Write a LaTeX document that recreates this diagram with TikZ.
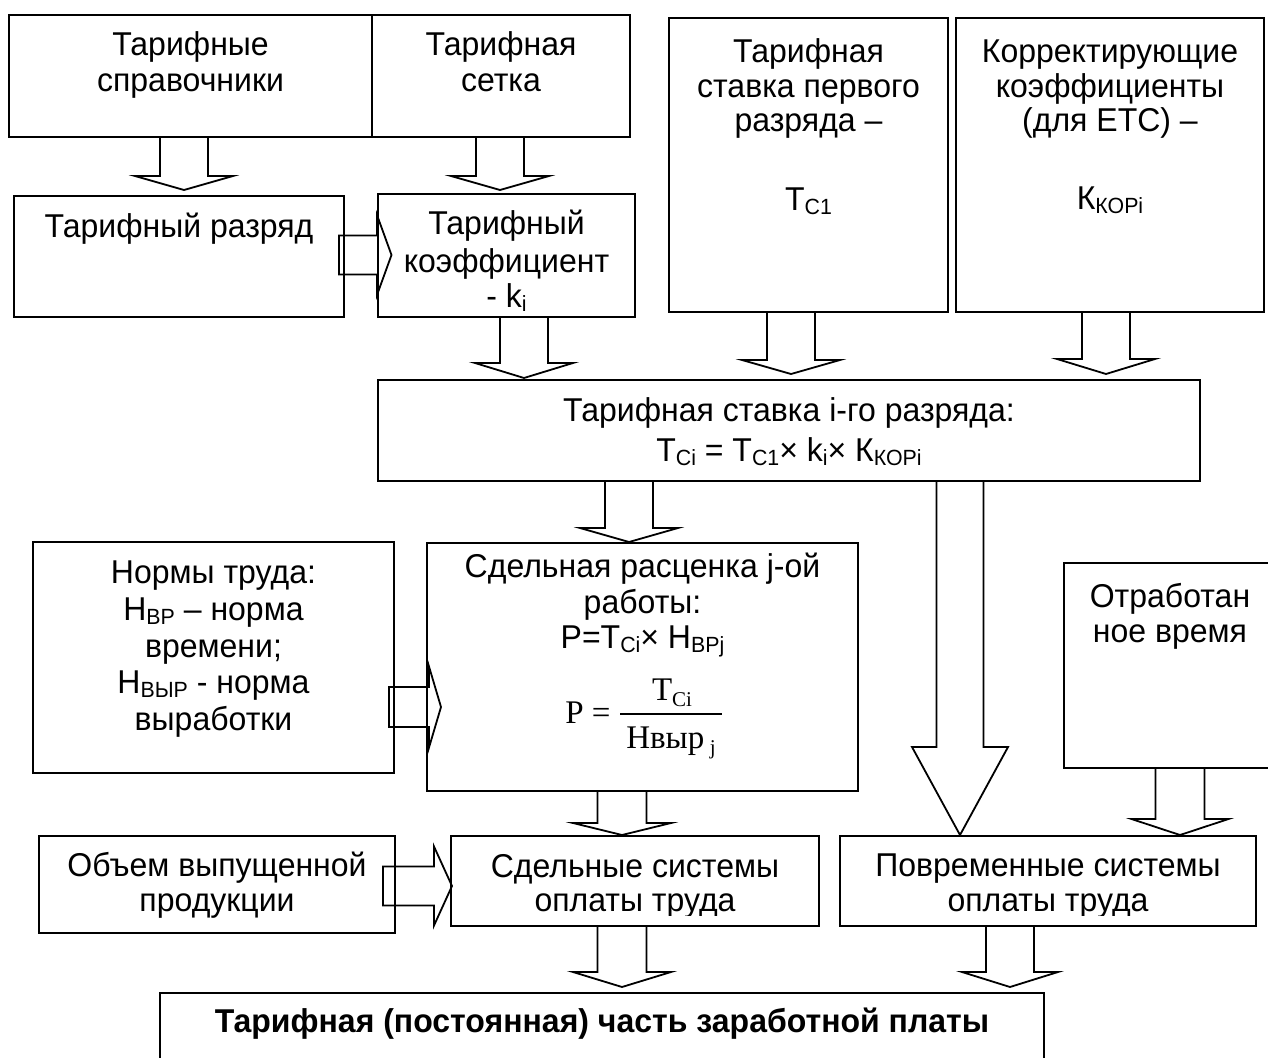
\documentclass[tikz,border=0pt]{standalone}
\usepackage{fontspec}
\setmainfont{Liberation Sans}[FakeStretch=0.97]
\newfontfamily\tms{Liberation Serif}
\usetikzlibrary{calc}
\newcommand\sub[1]{\raisebox{-0.15em}{\fontsize{22}{22}\selectfont #1}}
\newcommand\ssub[1]{\raisebox{-0.2em}{\fontsize{21}{21}\selectfont #1}}
% box: name, x1, y1, x2, y2
\newcommand\bx[5]{\node[box, minimum width={(#4-#2)*1pt}, minimum height={(#5-#3)*1pt}] (#1) at ({(#2+#4)/2},{(#3+#5)/2}) {};}
% down block arrow: xc, from, to, shaft half, head half, head length, gap
\newcommand\dnarrow[7]{%
 \draw[blk] let \p1=(#2.south), \p2=(#3.north) in
  ({(#1-#4)*1pt},\y1) -- ({(#1-#4)*1pt},{\y2+(#6+#7)*1pt}) -- ({(#1-#5)*1pt},{\y2+(#6+#7)*1pt})
  -- ({#1*1pt},{\y2+#7*1pt}) -- ({(#1+#5)*1pt},{\y2+(#6+#7)*1pt}) -- ({(#1+#4)*1pt},{\y2+(#6+#7)*1pt})
  -- ({(#1+#4)*1pt},\y1);}
% right block arrow: yc, from, to, shaft half, head half, tail offset, head base offset, head length
\newcommand\rtarrow[8]{%
 \draw[blk] let \p1=(#2.east), \p2=(#3.west) in
  ({\x1+#6*1pt},{-(#1-#4)*1pt}) -- ({\x2+#7*1pt},{-(#1-#4)*1pt}) -- ({\x2+#7*1pt},{-(#1-#5)*1pt})
  -- ({\x2+(#7+#8)*1pt},{-#1*1pt}) -- ({\x2+#7*1pt},{-(#1+#5)*1pt}) -- ({\x2+#7*1pt},{-(#1+#4)*1pt})
  -- ({\x1+#6*1pt},{-(#1+#4)*1pt}) -- cycle;}
\newcommand\tl[4]{\node[txt] (#1) at (#2,#3) {#4};}
\begin{document}
\begin{tikzpicture}[x=1pt,y=-1pt,
 box/.style={draw, line width=1.8pt, inner sep=0pt, outer sep=0pt},
 blk/.style={draw, line width=1.8pt, line join=miter},
 txt/.style={inner sep=0pt, anchor=base, font=\fontsize{33}{37}\selectfont},
 ser/.style={inner sep=0pt, anchor=base, font=\fontsize{33}{37}\selectfont\tms}]
\useasboundingbox (0,0) rectangle (1268,1057);
\fill[white] (0,0) rectangle (1268,1057);
% boxes
\bx{A}{9}{15}{372}{137}
\bx{B}{372}{15}{630}{137}
\bx{C}{14}{196}{344}{317}
\bx{D}{378}{194}{635}{317}
\bx{E}{669}{18}{948}{312}
\bx{F}{956}{18}{1264}{312}
\bx{G}{378}{380}{1200}{481}
\bx{I}{33}{542}{394}{773}
\bx{H}{427}{543}{858}{791}
\bx{J}{1064}{563}{1280}{768}
\bx{L}{39}{836}{395}{933}
\bx{K}{451}{836}{819}{926}
\bx{N}{840}{836}{1256}{926}
\bx{M}{160}{993}{1044}{1085}
% block arrows
\dnarrow{184}{A}{C}{24}{49}{14}{6}
\dnarrow{500}{B}{D}{24}{49}{14}{4}
\dnarrow{524}{D}{G}{24}{49}{15}{2}
\dnarrow{791}{E}{G}{24}{49}{14}{6}
\dnarrow{1106}{F}{G}{24}{49}{15}{6}
\dnarrow{629}{G}{H}{24}{49}{14}{1}
\dnarrow{960}{G}{N}{23.5}{48}{88}{1}
\dnarrow{1180}{J}{N}{24.5}{48.5}{16}{1}
\dnarrow{622}{H}{K}{24.5}{49}{12}{1}
\dnarrow{622}{K}{M}{24.5}{49}{15}{6}
\dnarrow{1010}{N}{M}{24}{48}{15}{6}
\rtarrow{255}{C}{D}{19.5}{40}{-5}{-1}{14.5}
\rtarrow{707}{I}{H}{20}{40.5}{-5}{2}{12}
\rtarrow{886}{L}{K}{19.5}{39.5}{-12}{-17}{18}
% texts
\tl{A1}{190.5}{56}{Тарифные}
\tl{A2}{190.5}{92}{справочники}
\tl{B1}{501}{56}{Тарифная}
\tl{B2}{501}{92}{сетка}
\tl{C1}{179}{237}{Тарифный разряд}
\tl{D1}{506.5}{234}{Тарифный}
\tl{D2}{506.5}{272}{коэффициент}
\tl{D3}{506.5}{307}{- k\sub{i}}
\tl{E1}{808.5}{63}{Тарифная}
\tl{E2}{808.5}{97}{ставка первого}
\tl{E3}{808.5}{131}{разряда –}
\tl{E4}{808.5}{210}{Т\sub{С1}}
\tl{F1}{1110}{63}{Корректирующие}
\tl{F2}{1110}{97}{коэффициенты}
\tl{F3}{1110}{131}{(для ЕТС) –}
\tl{F4}{1110}{209}{К\sub{КОРi}}
\tl{G1}{789}{421}{Тарифная ставка i-го разряда:}
\tl{G2}{789}{461}{Т\sub{Ci} = Т\sub{С1}× k\sub{i}× К\sub{КОРi}}
\tl{I1}{213.5}{583}{Нормы труда:}
\tl{I2}{213.5}{620}{Н\sub{ВР} – норма}
\tl{I3}{213.5}{657}{времени;}
\tl{I4}{213.5}{693}{Н\sub{ВЫР} - норма}
\tl{I5}{213.5}{730}{выработки}
\tl{H1}{642.5}{577}{Сдельная расценка j-ой}
\tl{H2}{642.5}{613}{работы:}
\tl{H3}{642.5}{648}{Р=Т\sub{Ci}× Н\sub{ВРj}}
% formula P = T_Ci / Нвыр_j
\node[ser] (H4) at (588,723) {Р =};
\node[ser] (H5) at (672,700) {Т\ssub{Ci}};
\node[ser] (H6) at (671,748) {Нвыр\,\ssub{j}};
\draw[line width=1.4pt] (620,714) -- (722,714);
\tl{J1}{1170}{607}{Отработан}
\tl{J2}{1170}{642}{ное время}
\tl{L1}{217}{876}{Объем выпущенной}
\tl{L2}{217}{911}{продукции}
\tl{K1}{635}{877}{Сдельные системы}
\tl{N1}{1048}{876}{Повременные системы}
\begin{scope}
\clip (451,880) rectangle (1256,915);
\tl{K2}{635}{911}{оплаты труда}
\tl{N2}{1048}{911}{оплаты труда}
\end{scope}
\tl{M1}{602}{1032}{\bfseries Тарифная (постоянная) часть заработной платы}
\end{tikzpicture}
\end{document}
